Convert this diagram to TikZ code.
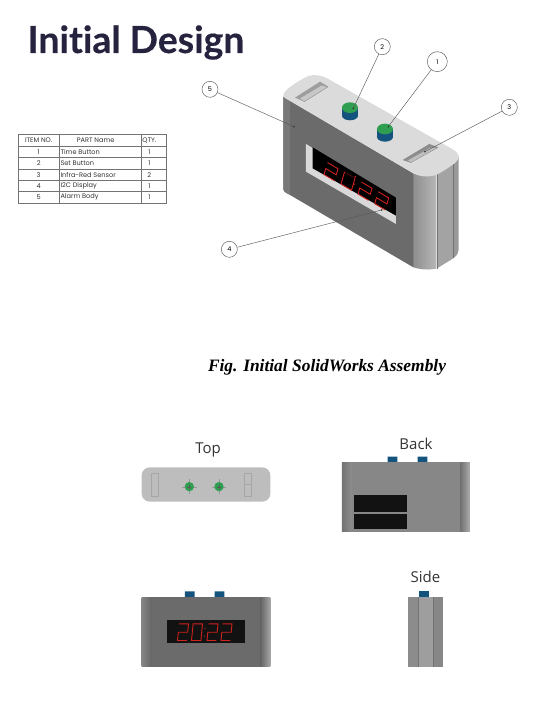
\documentclass[tikz,border=0pt]{standalone}
\usepackage{fontspec}
\setmainfont{Open Sans}
\newfontfamily\titlefont[Ligatures=NoCommon,BoldFeatures={FakeBold=0.35}]{Lato}
\newfontfamily\tablefont{Poppins}
\newfontfamily\capfont{Liberation Serif}
\definecolor{navy}{HTML}{26233F}
\definecolor{ledred}{HTML}{D0221E}
\definecolor{btngreen}{HTML}{2F9E50}
\definecolor{btnblue}{HTML}{14537E}
\tikzset{
  iso/.style={x=0.3333pt,y=-0.3333pt},
  topface/.style={fill=black!14},
  leader/.style={draw=black!65,line width=0.45pt},
  balloon/.style={circle,draw=black!65,line width=0.45pt,fill=white,inner sep=0pt,minimum size=16pt,font=\tablefont\fontsize{6.5}{7}\selectfont},
  isodig/.style={x={(10.5pt,-6.3pt)},y={(1.75pt,6pt)}},
  flatdig/.style={x={(9.4pt,0pt)},y={(0.8pt,8.3pt)}},
  led/.style={draw=ledred,line width=0.9pt,line join=miter},
  cell/.style={font=\tablefont\fontsize{6.6}{8}\selectfont,text=black!80,inner sep=0pt},
  viewlabel/.style={font=\fontsize{15}{18}\selectfont,text=black!80,inner sep=0pt},
  recess/.style={draw=black!35,line width=0.4pt},
  darkpanel/.style={fill=black!93},
  btn/.style={fill=btnblue},
}
\newcommand\digtwo{(0,2)--(1,2)--(1,1)--(0,1)--(0,0)--(1,0)}
\newcommand\digzero{(0,0)--(0,2)--(1,2)--(1,0)--cycle}
\begin{document}
\begin{tikzpicture}[x=1pt,y=-1pt]
\useasboundingbox (0,0) rectangle (541,708);
% title
\node[anchor=base west,inner sep=0pt,text=navy] (title) at (27.5,53) {\titlefont\bfseries\fontsize{37.3}{40}\selectfont Initial Design};
% table
\begin{scope}[shift={(10,125)},iso]
\draw[draw=black!55,line width=0.45pt] (25,28) rectangle (470,235);
\foreach \yy in {63,98,132,166,200} \draw[draw=black!55,line width=0.45pt] (25,\yy)--(470,\yy);
\foreach \xx in {148,395} \draw[draw=black!55,line width=0.45pt] (\xx,28)--(\xx,235);
\node[cell] (h1) at (86,46) {ITEM NO.};
\node[cell] (h2) at (257,46) {PART Name};
\node[cell] (h3) at (418,46) {QTY.};
\node[cell] (n1) at (86,81) {1};
\node[cell] (n2) at (86,115) {2};
\node[cell] (n3) at (86,149) {3};
\node[cell] (n4) at (86,183) {4};
\node[cell] (n5) at (86,217) {5};
\node[cell,anchor=west] (p1) at (151,81) {Time Button};
\node[cell,anchor=west] (p2) at (151,115) {Set Button};
\node[cell,anchor=west] (p3) at (151,149) {Infra-Red Sensor};
\node[cell,anchor=west] (p4) at (151,183) {I2C Display};
\node[cell,anchor=west] (p5) at (151,217) {Alarm Body};
\node[cell] (q1) at (418,81) {1};
\node[cell] (q2) at (418,115) {1};
\node[cell] (q3) at (418,149) {2};
\node[cell] (q4) at (418,183) {1};
\node[cell] (q5) at (418,217) {1};
\end{scope}
% isometric body
\begin{scope}[shift={(200,30)},iso]
% right end
\shade[left color=black!44,right color=black!28] (640,430) .. controls (670,442) and (695,440) .. (710,432) -- (710,716) .. controls (690,720) and (665,720) .. (640,712) -- cycle;
\fill[black!36] (710,432) -- (760,403) -- (760,685) -- (710,716) -- cycle;
\fill[black!40] (760,403) .. controls (770,396) and (776,388) .. (776,375) -- (776,660) .. controls (776,670) and (770,677) .. (760,685) -- cycle;
\draw[black!55,line width=0.3pt] (710,432)--(710,716) (760,403)--(760,685);
% front face
\fill[black!58] (250,200) -- (640,430) -- (640,712) -- (265,492) .. controls (255,487) and (250,483) .. (250,478) -- cycle;
\fill[black!53] (250,200) .. controls (256,206) and (262,210) .. (270,214) -- (270,495) -- (265,492) .. controls (255,487) and (250,483) .. (250,478) -- cycle;
% top
\path[topface] (250,195) .. controls (252,178) and (300,150) .. (325,138) .. controls (345,132) and (365,136) .. (385,147) -- (758,358) .. controls (775,367) and (780,378) .. (770,392) .. controls (755,408) and (725,428) .. (705,436) .. controls (680,442) and (660,440) .. (640,430) -- (265,210) .. controls (255,205) and (250,202) .. (250,195) -- cycle;
% sensor recesses
\fill[black!38] (285,203) -- (360,155) -- (385,170) -- (313,215) -- cycle;
\fill[black!22,draw=black!45,line width=0.3pt] (298,205) -- (365,165) -- (383,171) -- (313,215) -- cycle;
\fill[black!45] (608,390) -- (688,342) -- (715,352) -- (632,398) -- cycle;
\fill[black!25,draw=black!45,line width=0.3pt] (622,391) -- (692,352) -- (713,353) -- (632,398) -- cycle;
% display window
\fill[black!15] (318,342) -- (588,505) -- (588,582) -- (318,425) -- cycle;
\fill[black] (338,352) -- (588,503) -- (588,557) -- (338,415) -- cycle;
% buttons
\foreach \bx/\by in {450/233,555/297}{
  \fill[btn] (\bx-24,\by) rectangle (\bx+24,\by+24);
  \fill[btn] (\bx,\by+24) ellipse[x radius=24,y radius=14];
  \fill[btngreen] (\bx,\by) ellipse[x radius=24,y radius=16];
}
\end{scope}
% iso LED digits
\begin{scope}[shift={(324,174.5)},isodig]\draw[led] \digtwo;\end{scope}
\begin{scope}[shift={(341,184)},isodig]\draw[ledred!45!black,line width=0.6pt] (0,2)--(1,2);\draw[led] (0,2)--(0,0)--(1,0)--(1,2);\end{scope}
\begin{scope}[shift={(358,194)},isodig]\draw[led] \digtwo;\end{scope}
\begin{scope}[shift={(374.7,203.7)},isodig]\draw[led] \digtwo;\end{scope}
\fill[ledred] (355.3,176.7) circle[radius=0.9] (354,184.3) circle[radius=0.9];
% balloons and leaders
\begin{scope}[shift={(200,30)},iso]
\coordinate (e1) at (565,290);
\coordinate (e2) at (460,235);
\coordinate (e3) at (675,365);
\coordinate (e4) at (545,540);
\coordinate (e5) at (282,290);
\node[balloon,minimum size=20pt] (b1) at (712,95) {1};
\node[balloon] (b2) at (547,50) {2};
\node[balloon] (b3) at (928,232) {3};
\node[balloon] (b4) at (88,658) {4};
\node[balloon] (b5) at (30,178) {5};
\end{scope}
\foreach \n in {1,...,5}{
  \draw[leader] (b\n) -- (e\n);
  \fill[black!80] (e\n) circle[radius=0.9];
}
% view labels
\node[viewlabel] (ltop) at (208,449.5) {Top};
\node[viewlabel] (lback) at (416,443.5) {Back};
\node[viewlabel] (lside) at (425.5,577) {Side};
% caption
\node[inner sep=0pt] (cap) at (327,367) {\capfont\bfseries\itshape\fontsize{17.4}{20}\selectfont Fig. Initial SolidWorks Assembly};
% top view
\begin{scope}[shift={(130,430)},iso]
\fill[black!26,rounded corners=8pt] (35,112) rectangle (421,215);
\draw[recess] (65,130) rectangle (86,198);
\draw[recess] (343,130) rectangle (364,198);
\draw[recess] (343,164)--(364,164);
\foreach \cx in {178,267}{
  \draw[black!40,line width=0.3pt] (\cx-22,170)--(\cx+22,170) (\cx,148)--(\cx,192);
  \fill[btngreen] (\cx,170) circle[radius=14];
  \draw[black!65,line width=0.3pt] (\cx-6,170)--(\cx+6,170) (\cx,164)--(\cx,176);
}
% back view
\fill[btn] (773,80) rectangle (802,97) (863,80) rectangle (892,97);
\fill[black!47] (636,97) rectangle (1020,305);
\shade[left color=black!55,right color=black!45] (636,97) rectangle (665,305);
\shade[left color=black!55,right color=black!32] (992,97) rectangle (1020,305);
\fill[darkpanel] (672,195) rectangle (830,245);
\fill[darkpanel] (672,252) rectangle (830,297);
\end{scope}
% front and side views
\begin{scope}[shift={(130,565)},iso]
\fill[btn] (165,79) rectangle (194,96) (254,79) rectangle (283,96);
\fill[black!58] (35,96) rectangle (421,305);
\shade[left color=black!48,right color=black!60] (35,96) rectangle (65,305);
\shade[left color=black!60,right color=black!35] (392,96) rectangle (421,305);
\fill[darkpanel] (110,165) rectangle (345,235);
\fill[btn] (868,79) rectangle (897,96);
\fill[black!45] (835,96) rectangle (865,305);
\fill[black!38] (865,96) rectangle (910,305);
\fill[black!47] (910,96) rectangle (940,305);
\draw[black!55,line width=0.3pt] (865,96)--(865,305) (910,96)--(910,305);
\end{scope}
\begin{scope}[shift={(177.5,640.5)},flatdig]\draw[led] \digtwo;\end{scope}
\begin{scope}[shift={(191.5,640.5)},flatdig]\draw[led] \digzero;\end{scope}
\begin{scope}[shift={(207,640.5)},flatdig]\draw[led] \digtwo;\end{scope}
\begin{scope}[shift={(221,640.5)},flatdig]\draw[led] \digtwo;\end{scope}
\fill[ledred] (205,628.5) circle[radius=0.7] (204.3,636) circle[radius=0.7];
\end{tikzpicture}
\end{document}
